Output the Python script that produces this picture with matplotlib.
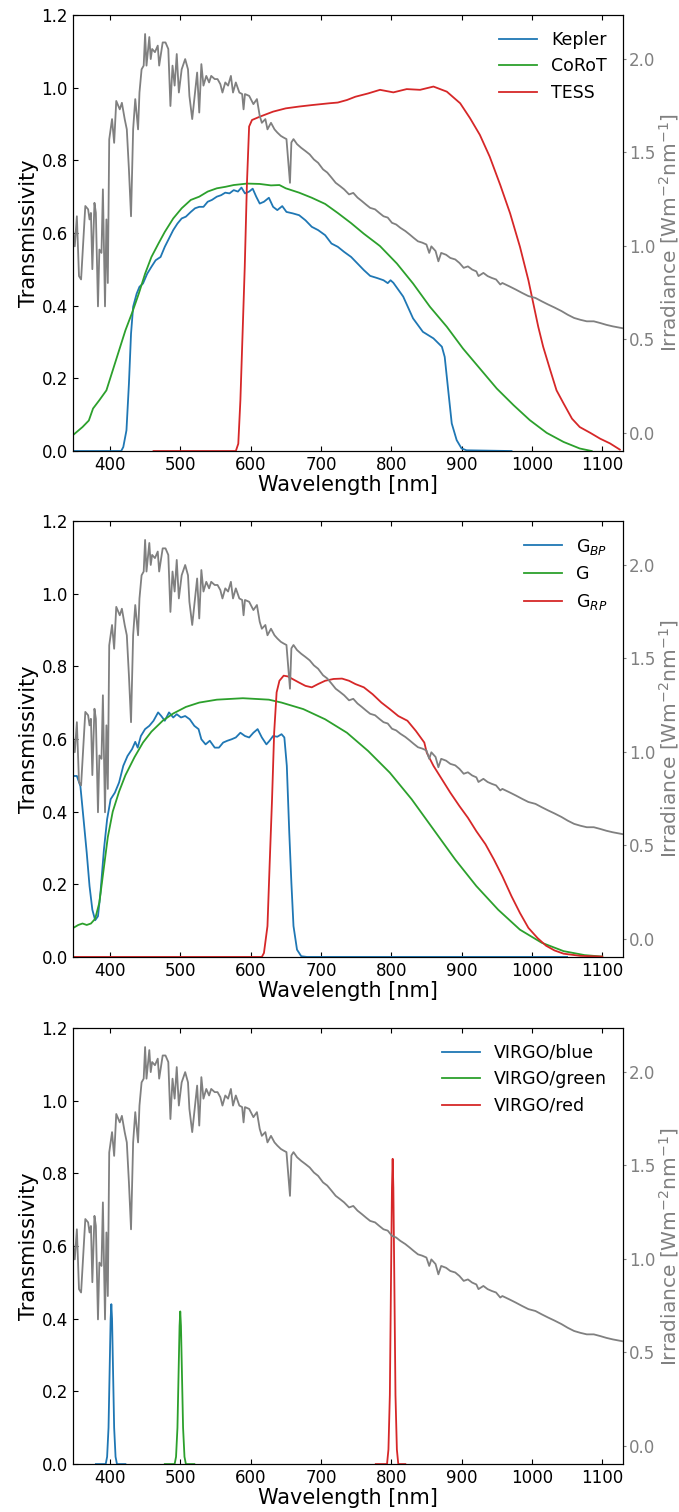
import numpy as np
import matplotlib.pyplot as plt

# solar irradiance [W m^-2 nm^-1]
wl_sun = [347, 350, 353, 356, 359, 362, 365, 369, 371, 373,
          375, 378, 380, 383, 385, 388, 390, 393, 395, 397,
          399, 403, 406, 409, 414, 417, 421, 424, 427, 430,
          433, 436, 440, 442, 445, 448, 450, 452, 456, 458,
          460, 464, 468, 470, 475, 479, 483, 486, 489, 492,
          495, 498, 502, 507, 511, 513, 517, 521, 524, 527,
          530, 533, 537, 541, 544, 549, 553, 557, 560, 564,
          568, 572, 575, 579, 584, 588, 590, 592, 598, 604,
          609, 613, 616, 621, 624, 629, 634, 638, 643, 647,
          651, 654, 656, 658, 661, 666, 672, 678, 684, 690,
          696, 703, 709, 715, 721, 727, 733, 740, 746, 752,
          758, 764, 770, 777, 783, 789, 795, 801, 807, 813,
          820, 826, 832, 838, 844, 850, 854, 857, 863, 867,
          871, 878, 884, 891, 897, 903, 909, 915, 921, 924,
          931, 937, 943, 949, 955, 958, 968, 977, 986, 995,
          1005, 1014, 1023, 1032, 1042, 1051, 1060, 1069, 1078, 1088,
          1097, 1106, 1115, 1129]
irr_sun = [1.104, 0.997, 1.158, 0.838, 0.820, 1.017, 1.213, 1.195, 1.141, 1.176,
           0.875, 1.230, 1.176, 0.676, 0.980, 0.962, 1.302, 0.676, 1.141, 0.801,
           1.569, 1.678, 1.551, 1.775, 1.730, 1.765, 1.678, 1.623, 1.409, 1.158,
           1.623, 1.785, 1.623, 1.820, 1.944, 1.964, 2.133, 1.964, 2.117, 1.999,
           2.053, 2.036, 2.071, 1.964, 2.088, 2.088, 2.053, 1.748, 1.964, 1.857,
           2.026, 1.820, 1.944, 1.999, 1.944, 1.802, 1.678, 1.820, 1.927, 1.713,
           1.972, 1.857, 1.909, 1.874, 1.909, 1.892, 1.892, 1.865, 1.820, 1.874,
           1.857, 1.909, 1.820, 1.874, 1.820, 1.812, 1.730, 1.812, 1.802, 1.758,
           1.785, 1.695, 1.658, 1.678, 1.623, 1.658, 1.623, 1.606, 1.588, 1.579,
           1.571, 1.427, 1.337, 1.553, 1.571, 1.544, 1.524, 1.507, 1.489, 1.462,
           1.444, 1.409, 1.392, 1.365, 1.337, 1.320, 1.302, 1.275, 1.283, 1.258,
           1.240, 1.221, 1.203, 1.195, 1.176, 1.158, 1.151, 1.123, 1.114, 1.096,
           1.079, 1.061, 1.042, 1.024, 1.017, 1.007, 0.962, 0.997, 0.972, 0.917,
           0.962, 0.952, 0.935, 0.927, 0.908, 0.882, 0.890, 0.873, 0.863, 0.838,
           0.855, 0.838, 0.828, 0.820, 0.793, 0.801, 0.783, 0.766, 0.748, 0.731,
           0.721, 0.703, 0.686, 0.670, 0.651, 0.631, 0.614, 0.604, 0.596, 0.596,
           0.587, 0.577, 0.569, 0.559]

# Kepler / CoRoT / TESS
wl_kepler = [348, 416, 419, 423.5, 427, 430, 433, 438, 442, 447,
             453, 459, 465, 472, 478, 484, 490, 496, 502, 508,
             515, 521, 527, 533, 539, 545, 552, 558, 564, 570,
             576, 582, 587, 592, 598, 603, 608, 613, 619, 626,
             632, 638, 645, 651, 660, 669, 678, 687, 696, 706,
             715, 724, 733, 743, 752, 761, 770, 780, 789, 795,
             799, 803, 817, 831, 845, 860, 872, 876, 881, 886,
             893, 900, 907, 971]
t_kepler = [0, 0, .011, .057, .185, .323, .397, .433, .452, .461,
            .488, .507, .525, .534, .562, .585, .608, .626, .640, .645,
            .658, .668, .672, .672, .686, .691, .700, .704, .711, .709,
            .718, .714, .725, .709, .714, .722, .700, .681, .686, .697,
            .672, .663, .674, .658, .654, .649, .635, .617, .608, .594,
            .571, .562, .548, .534, .516, .498, .482, .476, .470, .462,
            .470, .463, .425, .365, .328, .310, .287, .259, .167, .076,
            .030, .007, .002, 0]

wl_corot = [347, 361, 370, 376, 385, 395, 404, 413, 422, 432,
            441, 450, 459, 469, 478, 490, 502, 515, 527, 539,
            552, 564, 576, 595, 613, 629, 641, 650, 669, 687,
            706, 724, 743, 761, 780, 784, 808, 831, 855, 879,
            902, 926, 950, 974, 997, 1021, 1045, 1068, 1085]
t_corot = [.043, .066, .084, .117, .140, .167, .222, .277, .332, .383,
           .433, .488, .534, .571, .603, .640, .668, .691, .700, .714,
           .723, .727, .732, .736, .735, .731, .732, .723, .711, .697,
           .680, .655, .627, .598, .570, .564, .516, .461, .397, .342,
           .282, .227, .172, .126, .085, .050, .025, .007, 0]

wl_tess = [462, 579, 582.5, 585.5, 588.6, 591.7, 594.8, 597.9, 602, 613,
           632, 650, 669, 687, 712, 724, 737, 749, 767, 784,
           803, 822, 841, 860, 879, 898, 912, 926, 940, 955,
           969, 983, 995, 1002, 1009, 1016, 1026, 1035, 1045, 1057,
           1068, 1083, 1097, 1111, 1125]
t_tess = [0, 0, .020, .140, .323, .507, .736, .893, .911, .920,
          .934, .943, .948, .952, .957, .959, .966, .975, .984, .994,
          .987, .996, .994, 1.003, .989, .957, .916, .870, .810, .732,
          .654, .562, .470, .406, .342, .287, .223, .167, .131, .089,
          .066, .050, .034, .021, .004]

# Gaia
wl_gbp = [348, 353, 358, 362.5, 367, 371, 375, 379, 383, 386.5,
          391.5, 396, 401, 407, 413, 419, 425, 431.5, 436, 439.5,
          444, 450, 456, 462, 468.5, 473, 478, 484, 490, 495,
          501, 507, 513.5, 520, 526, 530, 536, 542, 549, 555,
          561, 567, 573, 579, 585.5, 592, 598, 604, 610, 616,
          622.5, 627, 632, 638, 644, 648, 651.5, 655, 658, 661,
          666, 672, 680, 1050]
t_gbp = [.498, .498, .470, .379, .287, .195, .130, .101, .112, .176,
         .296, .379, .434, .452, .480, .526, .553, .572, .592, .576,
         .608, .627, .636, .650, .673, .663, .650, .673, .659, .668,
         .659, .663, .654, .636, .627, .599, .585, .595, .576, .576,
         .590, .595, .599, .604, .617, .608, .604, .617, .627, .604,
         .585, .595, .608, .606, .613, .604, .526, .342, .204, .085,
         .020, .002, 0, 0]

wl_g = [348, 355, 361, 367, 373, 379, 385, 391, 397, 404,
        413, 422, 435, 447, 459, 475, 490, 508, 527, 552,
        589, 626, 644, 675, 706, 737, 767, 798, 829, 860,
        891, 921, 952, 983, 1014, 1045, 1075, 1100]
t_g = [.080, .088, .092, .088, .092, .105, .150, .240, .330, .400,
       .455, .500, .550, .590, .620, .650, .670, .688, .700, .708,
       .712, .708, .700, .682, .654, .617, .567, .507, .434, .351,
       .268, .195, .130, .075, .039, .016, .005, .001]

wl_grp = [348, 616, 619, 624, 627, 630.5, 633.5, 637, 641, 647,
          653, 659.5, 669, 678, 687, 696, 706, 718, 730, 740,
          749, 761, 773.5, 786, 798, 810, 823, 835, 847, 850.5,
          860, 872, 884, 897, 909, 921, 934, 946, 958, 971,
          983, 995, 1008, 1020, 1032, 1045, 1069, 1100]
t_grp = [0, 0, .011, .085, .250, .434, .617, .728, .760, .774,
         .772, .765, .755, .746, .742, .751, .760, .765, .766, .760,
         .751, .742, .723, .700, .682, .663, .650, .622, .590, .562,
         .526, .489, .452, .415, .383, .346, .310, .268, .222, .167,
         .121, .080, .052, .031, .018, .009, .003, .001]

# VIRGO
wl_vblue = [380, 394, 396, 398, 399.5, 401, 402, 403, 404.5, 406, 408, 410, 422]
t_vblue = [0, 0, .02, .10, .25, .40, .44, .40, .25, .10, .02, 0, 0]
wl_vgreen = [478, 492, 494, 496, 497.5, 499, 500, 501, 502.5, 504, 506, 508, 520]
t_vgreen = [0, 0, .02, .10, .24, .38, .42, .38, .24, .10, .02, 0, 0]
wl_vred = [778, 794, 796, 798, 799.5, 801, 802, 803, 804.5, 806, 808, 810, 820]
t_vred = [0, 0, .04, .19, .48, .76, .84, .76, .48, .19, .04, 0, 0]

panels = [
    [(wl_kepler, t_kepler, 'Kepler'), (wl_corot, t_corot, 'CoRoT'), (wl_tess, t_tess, 'TESS')],
    [(wl_gbp, t_gbp, 'G$_{BP}$'), (wl_g, t_g, 'G'), (wl_grp, t_grp, 'G$_{RP}$')],
    [(wl_vblue, t_vblue, 'VIRGO/blue'), (wl_vgreen, t_vgreen, 'VIRGO/green'), (wl_vred, t_vred, 'VIRGO/red')],
]
colors = ['#1f77b4', '#2ca02c', '#d62728']

fig = plt.figure(figsize=(6.79, 15.12), dpi=100)
bottoms = [0.7017, 0.3671, 0.0317]

for k, curves in enumerate(panels):
    ax = fig.add_axes([0.107, bottoms[k], 0.810, 0.2884])
    for (wl, t, lab), c in zip(curves, colors):
        ax.plot(wl, t, color=c, lw=1.3, label=lab)
    ax.set_xlim(347, 1129)
    ax.set_ylim(0, 1.2)
    ax.set_xticks(np.arange(400, 1101, 100))
    ax.set_yticks(np.arange(0, 1.21, 0.2))
    ax.set_yticklabels(['%.1f' % v for v in np.arange(0, 1.21, 0.2)])
    ax.tick_params(direction='in', top=True, right=False, labelsize=12, length=3.5)
    ax.set_xlabel('Wavelength [nm]', fontsize=15, labelpad=1)
    ax.set_ylabel('Transmissivity', fontsize=15, labelpad=2)
    ax.legend(loc='upper right', frameon=False, fontsize=12.5, handlelength=2.2)

    ax2 = ax.twinx()
    ax2.plot(wl_sun, irr_sun, color='gray', lw=1.3)
    ax2.set_ylim(-0.098, 2.235)
    ax2.set_yticks([0, 0.5, 1.0, 1.5, 2.0])
    ax2.set_yticklabels(['0.0', '0.5', '1.0', '1.5', '2.0'])
    ax2.tick_params(axis='y', colors='gray', labelsize=12, length=2.5, pad=2)
    ax2.set_ylabel('Irradiance [Wm$^{-2}$nm$^{-1}$]', fontsize=14.5, color='gray', labelpad=1)

fig.savefig('out.png', dpi=100)
